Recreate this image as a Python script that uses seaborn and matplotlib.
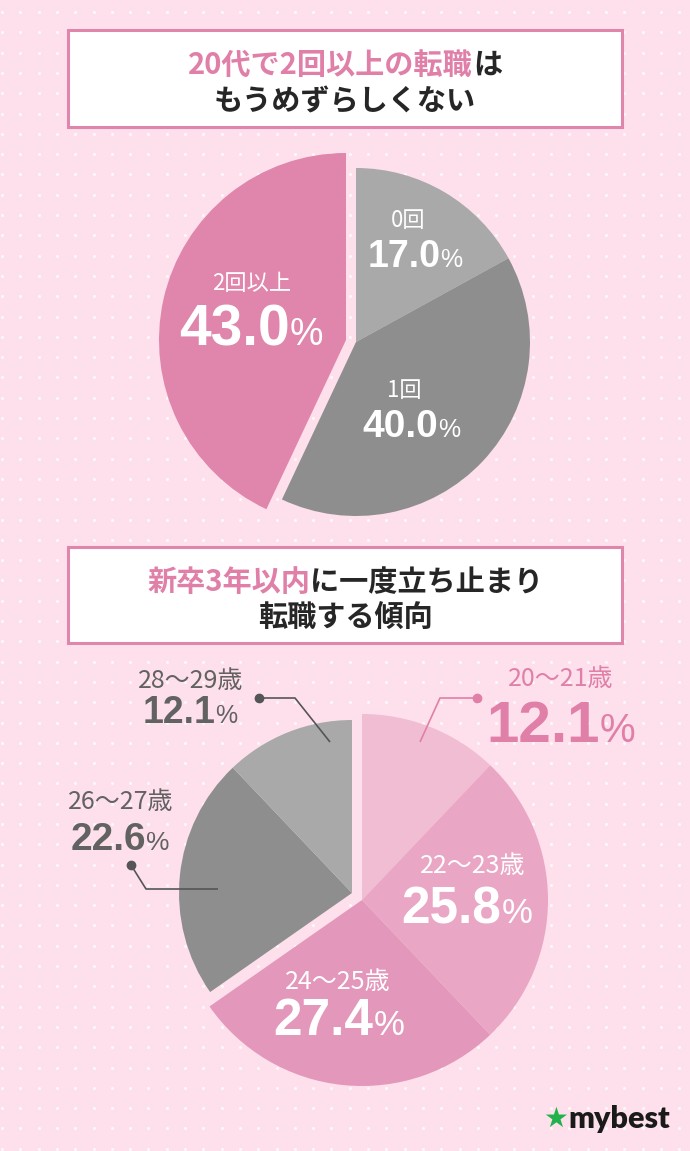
import numpy as np
import matplotlib.pyplot as plt
from matplotlib.patches import Rectangle
import seaborn as sns

# chart data
count_labels = ['0回', '1回', '2回以上']
count_share = [17.0, 40.0, 43.0]
count_colors = ['#a9a9a9', '#8e8e8e', '#e085ab']
count_focus = [False, False, True]

age_labels = ['20～21歳', '22～23歳', '24～25歳', '26～27歳', '28～29歳']
age_share = [12.1, 25.8, 27.4, 22.6, 12.1]
age_colors = ['#f0bdd3', '#eaa6c5', '#e397bb', '#8e8e8e', '#a9a9a9']
age_focus = [True, True, True, False, False]

title1 = [('20代で2回以上の転職', 'pink'), ('は', 'dark')]
title1b = [('もうめずらしくない', 'dark')]
title2 = [('新卒3年以内', 'pink'), ('に一度立ち止まり', 'dark')]
title2b = [('転職する傾向', 'dark')]

W, H = 690, 1151
BG = '#fde0eb'
PINK = '#e07fa8'
DARK = '#262626'
GRAY_TXT = '#626262'
JP = ['Noto Sans CJK JP', 'DejaVu Sans']
NUM = ['Liberation Sans', 'DejaVu Sans']
tone = {'pink': PINK, 'dark': DARK}

sns.set_theme(style='white')
plt.rcParams['font.family'] = JP

fig = plt.figure(figsize=(W / 100, H / 100), dpi=100, facecolor=BG)
ax = fig.add_axes([0, 0, 1, 1])
rend = fig.canvas.get_renderer()


def py(y):
    return H - y


def draw_pie(values, colors, focus, c_lo, r_lo, c_hi, r_hi):
    wedges, _ = ax.pie(values, colors=colors, startangle=90, counterclock=False,
                       center=(c_lo[0], py(c_lo[1])), radius=r_lo,
                       wedgeprops=dict(linewidth=0))
    for w, f in zip(wedges, focus):
        w.set_zorder(2)
        if f:
            w.set_center((c_hi[0], py(c_hi[1])))
            w.set_radius(r_hi)
    return wedges


def rich_line(cx, base, parts, size):
    ts = [ax.text(0, py(base), s, color=tone[c], fontsize=size, fontweight='bold',
                  family=JP, ha='left', va='baseline', zorder=5) for s, c in parts]
    ws = [t.get_window_extent(rend).width for t in ts]
    x = cx - sum(ws) / 2
    for t, w in zip(ts, ws):
        t.set_x(x)
        x += w


def pct_label(cx, base, value, big, small, color):
    t1 = ax.text(0, py(base), f'{value:.1f}', fontsize=big, fontweight='bold',
                 family=NUM, color=color, ha='left', va='baseline', zorder=5)
    t2 = ax.text(0, py(base), '%', fontsize=small, family=NUM, color=color,
                 ha='left', va='baseline', zorder=5)
    w1 = t1.get_window_extent(rend).width
    w2 = t2.get_window_extent(rend).width
    gap = 0
    x = cx - (w1 + w2 + gap) / 2
    t1.set_x(x)
    t2.set_x(x + w1 + gap)


def name_label(cx, cy, s, size, color):
    ax.text(cx, py(cy), s, fontsize=size, family=JP, color=color,
            ha='center', va='center', zorder=5)


def leader(pts, color):
    xs = [p[0] for p in pts]
    ys = [py(p[1]) for p in pts]
    ax.plot(xs, ys, color=color, lw=1.2, zorder=4, solid_capstyle='butt')
    ax.plot(xs[0], ys[0], 'o', color=color, ms=6, zorder=4)


# dotted background
gx, gy = np.meshgrid(np.arange(2, W, 18.3), np.arange(12, H, 20.3))
ax.scatter(gx.ravel(), py(gy.ravel()), s=5, color='white', alpha=0.75,
           linewidths=0, zorder=0)

# title boxes
for top, bottom in [(30, 127), (547, 643)]:
    ax.add_patch(Rectangle((68, py(bottom)), 554, bottom - top, facecolor='white',
                           edgecolor='#e085ab', lw=2.2, zorder=3))
rich_line(345, 74, title1, 21)
rich_line(345, 110, title1b, 21)
rich_line(345, 591, title2, 21)
rich_line(345, 627, title2b, 21)

# top pie
draw_pie(count_share, count_colors, count_focus, (356, 342), 174, (346, 340), 187)
name_label(408, 220, count_labels[0], 16, 'white')
pct_label(415, 267, count_share[0], 27, 18, 'white')
name_label(404, 390, count_labels[1], 16, 'white')
pct_label(411, 437, count_share[1], 28, 18, 'white')
name_label(252, 283, count_labels[2], 16, 'white')
pct_label(251, 345, count_share[2], 41, 27, 'white')

# bottom pie
draw_pie(age_share, age_colors, age_focus, (352, 893), 173, (362, 900), 186)
name_label(561, 679, age_labels[0], 18, PINK)
pct_label(561, 742, age_share[0], 42, 29, PINK)
leader([(477, 698), (440, 698), (420, 742)], PINK)
name_label(473, 866, age_labels[1], 18, 'white')
pct_label(467, 923, age_share[1], 37, 25, 'white')
name_label(338, 982, age_labels[2], 18, 'white')
pct_label(339, 1035, age_share[2], 37, 25, 'white')
name_label(121, 802, age_labels[3], 18, GRAY_TXT)
pct_label(120, 850, age_share[3], 28, 19, GRAY_TXT)
leader([(131, 865), (146, 889), (218, 889)], '#555555')
name_label(191, 681, age_labels[4], 18, GRAY_TXT)
pct_label(190, 723, age_share[4], 27, 18, GRAY_TXT)
leader([(259, 698), (295, 698), (330, 742)], '#555555')

# logo
ax.text(556, py(1119), '★', fontsize=20, color='#22b24c', family=['DejaVu Sans'],
        ha='center', va='center', zorder=5)
ax.text(568, py(1128), 'mybest', fontsize=22, fontweight='heavy', color='#1a1a1a',
        family=['Lato', 'DejaVu Sans'], ha='left', va='baseline', zorder=5)

ax.set_xlim(0, W)
ax.set_ylim(0, H)
ax.set_aspect('equal')
ax.axis('off')
fig.savefig('out.png', dpi=100, facecolor=BG)
